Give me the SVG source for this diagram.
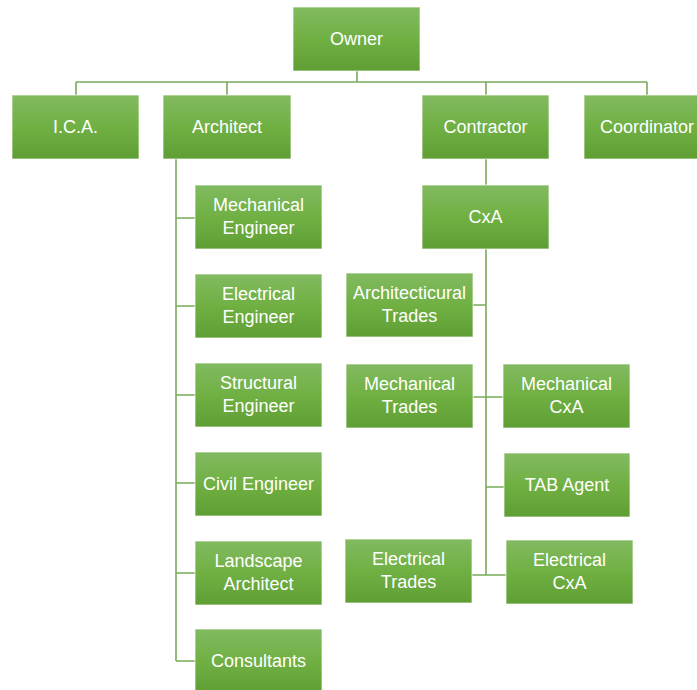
<svg xmlns="http://www.w3.org/2000/svg" width="697" height="690" viewBox="0 0 697 690">
<defs>
<linearGradient id="g" x1="0" y1="0" x2="0" y2="1">
<stop offset="0" stop-color="#82ba61"/>
<stop offset="0.5" stop-color="#70b043"/>
<stop offset="1" stop-color="#5f9e33"/>
</linearGradient>
</defs>
<style>
.b{fill:url(#g);stroke:#ffffff;stroke-width:1;stroke-opacity:0.7}
.t{font-family:"Liberation Sans",Arial,sans-serif;font-size:18px;fill:#ffffff;text-anchor:middle}
.c{fill:none;stroke:#78aa5a;stroke-width:1.6}
</style>
<rect width="697" height="690" fill="#ffffff"/>
<g id="connectors">
<path class="c" d="M357,71V82M76,82H647M76,82V95M227,82V95M486,82V95M647,82V95"/>
<path class="c" d="M176,159V661M176,218H195M176,306H195M176,395H195M176,483H195M176,573H195M176,661H195"/>
<path class="c" d="M486,159V185"/>
<path class="c" d="M486,249V575M473,305H486M473,397H503M486,487H504M472,575H506"/>
</g>
<g id="owner"><rect class="b" x="293" y="7" width="127" height="64"/><text class="t" x="356.5" y="45">Owner</text></g>
<g id="ica"><rect class="b" x="12" y="95" width="127" height="64"/><text class="t" x="75.5" y="133">I.C.A.</text></g>
<g id="architect"><rect class="b" x="163" y="95" width="128" height="64"/><text class="t" x="227" y="133">Architect</text></g>
<g id="contractor"><rect class="b" x="422" y="95" width="127" height="64"/><text class="t" x="485.5" y="133">Contractor</text></g>
<g id="coordinator"><rect class="b" x="584" y="95" width="127" height="64"/><text class="t" x="647" y="133">Coordinator</text></g>
<g id="cxa"><rect class="b" x="422" y="185" width="127" height="64"/><text class="t" x="485.5" y="223">CxA</text></g>
<g id="mech-eng"><rect class="b" x="195" y="185" width="127" height="64"/><text class="t" x="258.5" y="211">Mechanical</text><text class="t" x="258.5" y="234">Engineer</text></g>
<g id="elec-eng"><rect class="b" x="195" y="274" width="127" height="64"/><text class="t" x="258.5" y="300">Electrical</text><text class="t" x="258.5" y="323">Engineer</text></g>
<g id="struct-eng"><rect class="b" x="195" y="363" width="127" height="64"/><text class="t" x="258.5" y="389">Structural</text><text class="t" x="258.5" y="412">Engineer</text></g>
<g id="civil-eng"><rect class="b" x="195" y="452" width="127" height="64"/><text class="t" x="258.5" y="490">Civil Engineer</text></g>
<g id="landscape"><rect class="b" x="195" y="541" width="127" height="64"/><text class="t" x="258.5" y="567">Landscape</text><text class="t" x="258.5" y="590">Architect</text></g>
<g id="consultants"><rect class="b" x="195" y="629" width="127" height="64"/><text class="t" x="258.5" y="667">Consultants</text></g>
<g id="arch-trades"><rect class="b" x="346" y="273" width="127" height="64"/><text class="t" x="409.5" y="299">Architecticural</text><text class="t" x="409.5" y="322">Trades</text></g>
<g id="mech-trades"><rect class="b" x="346" y="364" width="127" height="64"/><text class="t" x="409.5" y="390">Mechanical</text><text class="t" x="409.5" y="413">Trades</text></g>
<g id="mech-cxa"><rect class="b" x="503" y="364" width="127" height="64"/><text class="t" x="566.5" y="390">Mechanical</text><text class="t" x="566.5" y="413">CxA</text></g>
<g id="tab"><rect class="b" x="504" y="453" width="126" height="64"/><text class="t" x="567" y="491">TAB Agent</text></g>
<g id="elec-trades"><rect class="b" x="345" y="539" width="127" height="64"/><text class="t" x="408.5" y="565">Electrical</text><text class="t" x="408.5" y="588">Trades</text></g>
<g id="elec-cxa"><rect class="b" x="506" y="540" width="127" height="64"/><text class="t" x="569.5" y="566">Electrical</text><text class="t" x="569.5" y="589">CxA</text></g>
</svg>
